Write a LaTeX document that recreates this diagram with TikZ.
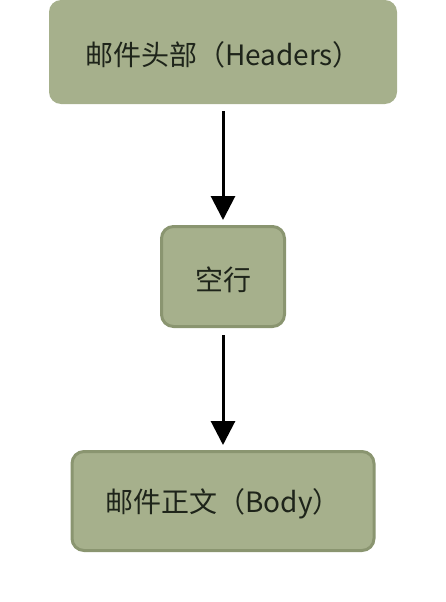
\documentclass[tikz,border=0pt]{standalone}
\usepackage{fontspec}
\setmainfont{Noto Sans CJK SC}
\usetikzlibrary{arrows.meta,positioning}
\definecolor{boxfill}{HTML}{A6B08C}
\definecolor{boxline}{HTML}{8A9570}
\definecolor{txt}{HTML}{1E241A}
\newcommand{\lowtext}[1]{\raisebox{-3pt}[\height][\depth]{#1}}
\begin{document}
\begin{tikzpicture}[x=1pt,y=-1pt,
  box/.style={rectangle,rounded corners=12pt,fill=boxfill,text=txt,
    font=\fontsize{28pt}{32pt}\selectfont,inner sep=0pt},
  framed/.style={box,draw=boxline,line width=3pt},
  flow/.style={line width=3pt,-{Triangle[width=24pt,length=24pt]}}]
\useasboundingbox (0,0) rectangle (446,602);
\node[box,minimum width=348pt,minimum height=104pt] (head) at (223,52) {\lowtext{邮件头部（Headers）}};
\node[framed,minimum width=123pt,minimum height=100pt] (blank) at (223,276.5) {\lowtext{空行}};
\node[framed,minimum width=302pt,minimum height=99pt] (body) at (223,501) {\lowtext{邮件正文（Body）}};
\draw[flow,shorten <=7pt,shorten >=5pt] (head.south) -- (blank.north);
\draw[flow,shorten <=7pt,shorten >=5pt] (blank.south) -- (body.north);
\end{tikzpicture}
\end{document}
